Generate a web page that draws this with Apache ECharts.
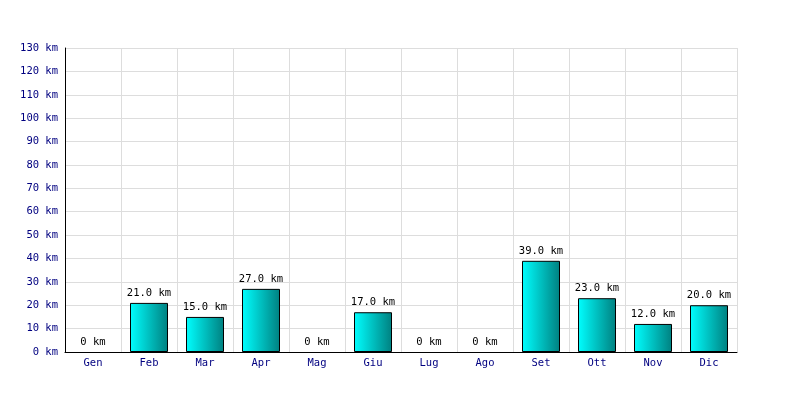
<!DOCTYPE html>
<html><head><meta charset="utf-8">
<script src="https://cdn.jsdelivr.net/npm/echarts@6/dist/echarts.min.js"></script>
<style>html,body{margin:0;padding:0;background:#fff}#c{width:800px;height:400px}</style>
</head><body><div id="c"></div>
<script>
const categories = ['Gen','Feb','Mar','Apr','Mag','Giu','Lug','Ago','Set','Ott','Nov','Dic'];
const values = [0,21,15,27,0,17,0,0,39,23,12,20];
const yMin = 0, yMax = 130, yStep = 10;
const unit = 'km';

const chart = echarts.init(document.getElementById('c'), null, {renderer:'canvas'});
const font = '"DejaVu Sans Mono", monospace';
const seriesData = values.map(v => v === 0
  ? {value: v, itemStyle: {borderWidth: 0, color: 'rgba(0,0,0,0)'}}
  : {value: v});
chart.setOption({
  animation:false,
  grid:{left:65,right:63,top:48,bottom:48,containLabel:false},
  xAxis:{type:'category',data:categories,
    axisLine:{lineStyle:{color:'#000',width:1}},
    axisTick:{show:false},
    axisLabel:{color:'#000080',fontFamily:font,fontSize:10.5,margin:6},
    splitLine:{show:true,lineStyle:{color:'#dddddd',width:1}}},
  yAxis:{type:'value',min:yMin,max:yMax,interval:yStep,
    axisLine:{show:true,lineStyle:{color:'#000',width:1}},
    axisTick:{show:false},
    axisLabel:{color:'#000080',fontFamily:font,fontSize:10.5,margin:7,formatter:v=>v+' '+unit},
    splitLine:{show:true,lineStyle:{color:'#dddddd',width:1}}},
  series:[{type:'bar',data:seriesData,barWidth:38,
    itemStyle:{borderColor:'#000',borderWidth:1,
      color:new echarts.graphic.LinearGradient(0,0,1,0,[{offset:0,color:'#00ffff'},{offset:1,color:'#008080'}])},
    label:{show:true,position:'top',distance:4,color:'#000',fontFamily:font,fontSize:10.5,
      formatter:p=>p.value===0?'0 '+unit:p.value.toFixed(1)+' '+unit}}]
});
</script></body></html>
